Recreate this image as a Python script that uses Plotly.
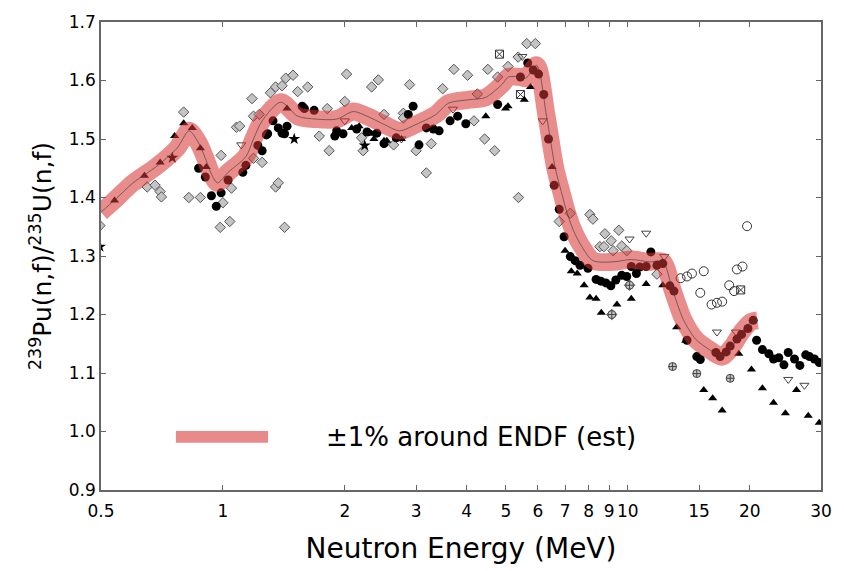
import plotly.graph_objects as go

# ENDF (estimated) curve
endf_e = [0.5, 0.541, 0.6, 0.685, 0.77, 0.825, 0.87, 0.905, 0.94, 0.97, 1.03, 1.14, 1.19, 1.25,
          1.39, 1.53, 1.70, 1.91, 2.10, 2.27, 2.50, 2.73, 3.0, 3.36, 3.6, 4.03, 4.45, 4.9, 5.07,
          5.45, 5.6, 5.95, 6.3, 6.62, 6.85, 7.1, 7.4, 7.7, 8.2, 9.2, 10.2, 11.3, 12.2, 12.9,
          13.7, 14.7, 15.9, 17.1, 18.1, 19.1, 20.1, 20.9]
endf_y = [1.375, 1.396, 1.425, 1.453, 1.484, 1.514, 1.494, 1.467, 1.438, 1.425, 1.443, 1.470,
          1.500, 1.531, 1.563, 1.539, 1.534, 1.534, 1.547, 1.539, 1.525, 1.514, 1.525, 1.542,
          1.561, 1.567, 1.571, 1.594, 1.606, 1.606, 1.604, 1.626, 1.539, 1.450, 1.410, 1.371,
          1.338, 1.316, 1.292, 1.290, 1.294, 1.290, 1.290, 1.242, 1.192, 1.158, 1.140, 1.128,
          1.145, 1.170, 1.187, 1.190]

# Filled circles
circ_e = [0.871, 0.905, 0.937, 0.963, 0.99, 1.03, 1.12, 1.14, 1.22, 1.25, 1.28, 1.29, 1.33, 1.37,
          1.40, 1.42, 1.44, 1.57, 1.59, 1.68, 1.89, 1.91, 1.98, 2.14, 2.27, 2.40, 2.50, 2.68, 2.87,
          2.95, 3.05, 3.18, 3.31, 3.42, 3.64, 3.80, 3.98, 4.77, 5.43, 5.66, 5.84, 6.02, 6.2, 6.37,
          6.58, 6.77, 6.96, 7.21, 7.41, 7.62, 7.97, 8.35, 8.58, 8.83, 9.08, 9.34, 9.66, 9.94, 10.2,
          10.5, 10.7, 11.1, 11.4, 11.8, 12.2, 12.7, 13.0, 14.0, 14.8, 15.1, 16.5, 16.9, 17.5, 17.9,
          18.6, 19.1, 19.8, 20.4, 20.8, 21.5, 22.3, 22.9, 23.6, 24.3, 24.9, 25.8, 26.6, 27.5, 28.1,
          28.9, 29.7]
circ_y = [1.450, 1.435, 1.403, 1.385, 1.408, 1.430, 1.443, 1.455, 1.489, 1.480, 1.507, 1.509,
          1.531, 1.519, 1.510, 1.509, 1.522, 1.556, 1.552, 1.549, 1.505, 1.514, 1.509, 1.517,
          1.512, 1.510, 1.492, 1.502, 1.542, 1.556, 1.490, 1.519, 1.517, 1.514, 1.531, 1.539,
          1.526, 1.559, 1.606, 1.630, 1.618, 1.611, 1.576, 1.500, 1.421, 1.380, 1.333, 1.299,
          1.292, 1.284, 1.279, 1.260, 1.257, 1.254, 1.249, 1.259, 1.267, 1.265, 1.282, 1.270,
          1.281, 1.282, 1.307, 1.284, 1.287, 1.249, 1.240, 1.156, 1.128, 1.123, 1.135, 1.128,
          1.136, 1.146, 1.158, 1.166, 1.176, 1.190, 1.156, 1.140, 1.133, 1.124, 1.126, 1.114,
          1.135, 1.124, 1.113, 1.131, 1.128, 1.124, 1.118]

# Filled triangles
tri_e = [0.54, 0.64, 0.70, 0.76, 0.80, 0.84, 0.88, 0.91, 1.44, 1.89, 2.08, 2.17, 2.33, 2.36, 2.50,
         2.54, 2.76, 4.46, 4.99, 5.06, 5.55, 5.75, 6.50, 7.0, 7.25, 7.5, 7.8, 8.06, 8.35, 8.6, 9.4,
         10.2, 11.1, 12.2, 13.2, 13.9, 15.4, 16.2, 17.1, 18.8, 20.2, 21.5, 22.9, 24.5, 26.1, 27.9,
         29.7]
tri_y = [1.395, 1.437, 1.460, 1.505, 1.527, 1.519, 1.484, 1.452, 1.552, 1.509, 1.519, 1.522, 1.509,
         1.500, 1.497, 1.497, 1.500, 1.539, 1.552, 1.556, 1.567, 1.589, 1.452, 1.309, 1.274, 1.270,
         1.250, 1.229, 1.227, 1.203, 1.217, 1.227, 1.252, 1.250, 1.178, 1.155, 1.071, 1.057, 1.036,
         1.133, 1.106, 1.074, 1.049, 1.031, 1.071, 1.027, 1.015]

# Stars
star_e = [0.497, 0.75, 1.50, 2.24]
star_y = [1.316, 1.468, 1.500, 1.489]

# Grey patterned symbols
grey_e = [0.497, 0.65, 0.68, 0.70, 0.705, 0.80, 0.824, 0.88, 0.985, 0.99, 1.00, 1.04, 1.05, 1.08,
          1.10, 1.18, 1.19, 1.19, 1.23, 1.25, 1.31, 1.35, 1.35, 1.37, 1.40, 1.42, 1.43, 1.49, 1.53,
          1.62, 1.73, 1.81, 1.83, 2.00, 2.02, 2.20, 2.22, 2.33, 2.42, 2.50, 2.64, 2.79, 2.79, 2.89,
          3.00, 3.18, 3.27, 3.49, 3.72, 4.02, 4.17, 4.25, 4.43, 4.51, 4.69, 4.77, 5.06, 5.36, 5.37,
          5.63, 5.91, 6.77, 7.21, 8.06, 8.2, 8.53, 8.73, 8.78, 9.1, 9.13, 9.2, 9.50, 9.66, 9.94,
          10.1, 11.8]
grey_y = [1.352, 1.418, 1.421, 1.410, 1.401, 1.546, 1.400, 1.400, 1.349, 1.472, 1.391, 1.359,
          1.416, 1.520, 1.522, 1.569, 1.539, 1.467, 1.542, 1.460, 1.579, 1.589, 1.418, 1.425,
          1.591, 1.349, 1.604, 1.609, 1.581, 1.589, 1.505, 1.552, 1.480, 1.564, 1.611, 1.502,
          1.480, 1.589, 1.601, 1.542, 1.490, 1.544, 1.536, 1.593, 1.480, 1.442, 1.492, 1.586,
          1.619, 1.609, 1.531, 1.577, 1.500, 1.619, 1.480, 1.606, 1.624, 1.640, 1.400, 1.663,
          1.663, 1.359, 1.373, 1.371, 1.363, 1.316, 1.316, 1.338, 1.326, 1.200, 1.309, 1.344,
          1.317, 1.309, 1.250, 1.269]

# Quatrefoil-like grey symbols
quat_e = [9.13, 10.1, 12.9, 14.8, 17.9]
quat_y = [1.200, 1.250, 1.111, 1.099, 1.091]

# Open inverted triangles
itri_e = [1.11, 2.00, 2.76, 3.70, 5.49, 6.16, 10.1, 11.1, 12.3, 16.6, 18.5, 24.9, 27.3]
itri_y = [1.490, 1.531, 1.500, 1.551, 1.641, 1.531, 1.329, 1.339, 1.299, 1.170, 1.170, 1.089, 1.079]

# Open circles
ocirc_e = [13.5, 14.0, 14.4, 15.4, 15.1, 16.1, 16.6, 17.1, 17.8, 18.3, 18.6, 19.2, 19.7]
ocirc_y = [1.262, 1.265, 1.270, 1.274, 1.237, 1.217, 1.220, 1.222, 1.250, 1.240, 1.277, 1.282, 1.351]

# Open squares
sq_e = [4.82, 5.43, 19.0]
sq_y = [1.645, 1.576, 1.242]

x_ticks = [0.5, 1, 2, 3, 4, 5, 6, 7, 8, 9, 10, 15, 20, 30]
x_ticktext = ["0.5", "1", "2", "3", "4", "5", "6", "7", "8", "9", "10", "15", "20", "30"]
y_ticks = [0.9, 1.0, 1.1, 1.2, 1.3, 1.4, 1.5, 1.6, 1.7]
y_ticktext = ["0.9", "1.0", "1.1", "1.2", "1.3", "1.4", "1.5", "1.6", "1.7"]

legend_text = "\u00b11% around ENDF (est)"
band_color = "rgba(214,50,50,0.56)"
FONT = "DejaVu Sans, Liberation Sans, Arial"

fig = go.Figure()

fig.add_trace(go.Scatter(x=grey_e, y=grey_y, mode="markers",
                         marker=dict(symbol="diamond", size=8, color="#c4c4c4",
                                     line=dict(color="#555555", width=1))))
fig.add_trace(go.Scatter(x=quat_e, y=quat_y, mode="markers",
                         marker=dict(symbol="circle-cross", size=8, color="#c4c4c4",
                                     line=dict(color="#444444", width=1))))
fig.add_trace(go.Scatter(x=itri_e, y=itri_y, mode="markers",
                         marker=dict(symbol="triangle-down-open", size=8, color="#444444",
                                     line=dict(width=1))))
fig.add_trace(go.Scatter(x=ocirc_e, y=ocirc_y, mode="markers",
                         marker=dict(symbol="circle-open", size=9, color="#333333",
                                     line=dict(width=1))))
fig.add_trace(go.Scatter(x=sq_e, y=sq_y, mode="markers",
                         marker=dict(symbol="square-x-open", size=8, color="#333333",
                                     line=dict(width=1))))
fig.add_trace(go.Scatter(x=star_e, y=star_y, mode="markers",
                         marker=dict(symbol="star", size=9, color="black")))
fig.add_trace(go.Scatter(x=tri_e, y=tri_y, mode="markers",
                         marker=dict(symbol="triangle-up", size=8, color="black")))
fig.add_trace(go.Scatter(x=circ_e, y=circ_y, mode="markers",
                         marker=dict(symbol="circle", size=9, color="black")))
fig.add_trace(go.Scatter(x=endf_e, y=endf_y, mode="lines",
                         line=dict(color=band_color, width=18, shape="spline", smoothing=0.8)))
fig.add_trace(go.Scatter(x=endf_e, y=endf_y, mode="lines",
                         line=dict(color="rgba(60,60,60,0.8)", width=0.8, shape="spline",
                                   smoothing=0.8)))

# legend sample and text
fig.add_shape(type="rect", xref="paper", yref="paper", x0=0.104, x1=0.232, y0=0.101, y1=0.126,
              fillcolor="#e88a8a", line=dict(width=0))
fig.add_annotation(xref="paper", yref="paper", x=0.31, y=0.114, xanchor="left", yanchor="middle",
                   text=legend_text, showarrow=False,
                   font=dict(family=FONT, size=26, color="black"))

axis_common = dict(showgrid=False, zeroline=False, ticks="inside", ticklen=5, tickcolor="#666",
                   showline=True, linecolor="#666", linewidth=1.5, mirror="ticks",
                   tickfont=dict(family=FONT, size=17, color="black"))

fig.update_layout(
    width=844, height=571,
    margin=dict(l=101, r=14, t=14, b=80),
    plot_bgcolor="white", paper_bgcolor="white",
    showlegend=False,
    xaxis=dict(type="log", range=[-0.30103, 1.4771], tickvals=x_ticks, ticktext=x_ticktext,
               ticklabelstandoff=5,
               title=dict(text="Neutron Energy (MeV)", standoff=18,
                          font=dict(family=FONT, size=28, color="black")),
               **axis_common),
    yaxis=dict(range=[0.9, 1.7], tickvals=y_ticks, ticktext=y_ticktext,
               title=dict(text="<sup>239</sup>Pu(n,f)/<sup>235</sup>U(n,f)", standoff=10,
                          font=dict(family=FONT, size=25, color="black")),
               **axis_common),
)

fig.write_html("out.html")
